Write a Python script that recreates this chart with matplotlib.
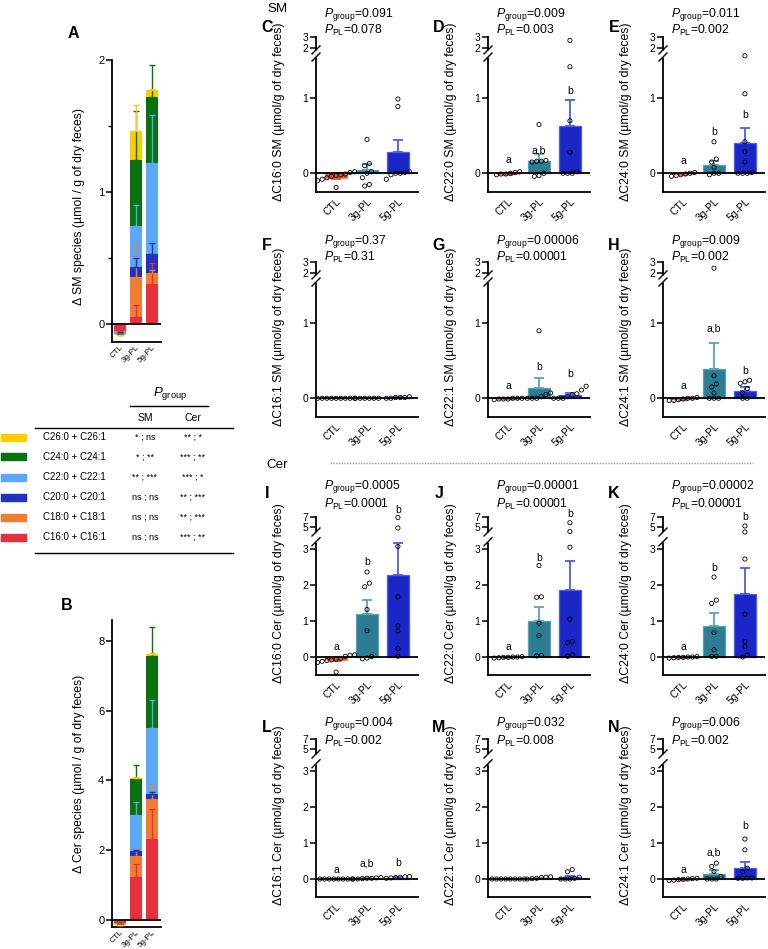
import numpy as np
import matplotlib
matplotlib.use("Agg")
import matplotlib.pyplot as plt
from matplotlib.lines import Line2D
from matplotlib.patches import Rectangle

plt.rcParams['font.family'] = ['Liberation Sans', 'DejaVu Sans']
plt.rcParams['mathtext.fontset'] = 'custom'
plt.rcParams['mathtext.rm'] = 'Liberation Sans'
plt.rcParams['mathtext.it'] = 'Liberation Sans:italic'

W, H = 768, 949

# ---------------- data ----------------
groups = ["CTL", "3g-PL", "5g-PL"]
group_colors = ["#E2592A", "#2C7C93", "#1B26C9"]
group_edges = ["#EE8A60", "#5AA2B8", "#4B5EE4"]

species = ["C16:0 + C16:1", "C18:0 + C18:1", "C20:0 + C20:1",
           "C22:0 + C22:1", "C24:0 + C24:1", "C26:0 + C26:1"]
species_colors = ["#E8303C", "#F07D32", "#1F33C2", "#5BA8FA", "#08720F", "#FFCC00"]
sig_sm = ["ns ; ns", "ns ; ns", "ns ; ns", "** ; ***", "* ; **", "* ; ns"]
sig_cer = ["*** ; **", "** ; ***", "** ; ***", "*** ; *", "*** ; **", "** ; *"]

# panel A (SM) stacked means / SEM, rows = groups, columns = species
sm_stack_mean = [[-0.06, -0.005, -0.002, -0.01, -0.006, -0.002],
                 [0.05, 0.30, 0.08, 0.31, 0.50, 0.22],
                 [0.30, 0.08, 0.15, 0.69, 0.50, 0.05]]
sm_stack_sem = [[0.02, 0.005, 0.002, 0.005, 0.005, 0.002],
                [0.09, 0.25, 0.07, 0.16, 0.37, 0.20],
                [0.16, 0.03, 0.08, 0.36, 0.24, 0.01]]
# panel B (Cer)
cer_stack_mean = [[-0.09, -0.01, -0.005, -0.01, -0.01, -0.005],
                  [1.22, 0.62, 0.13, 1.04, 1.02, 0.04],
                  [2.31, 1.15, 0.15, 1.90, 2.05, 0.06]]
cer_stack_sem = [[0.05, 0.01, 0.005, 0.01, 0.01, 0.005],
                 [0.38, 0.20, 0.05, 0.38, 0.40, 0.02],
                 [0.86, 0.40, 0.05, 0.80, 0.85, 0.03]]

# panels C-N
panel_ids = list("CDEFGHIJKLMN")
lipids = ["C16:0 SM", "C22:0 SM", "C24:0 SM", "C16:1 SM", "C22:1 SM", "C24:1 SM",
          "C16:0 Cer", "C22:0 Cer", "C24:0 Cer", "C16:1 Cer", "C22:1 Cer", "C24:1 Cer"]
p_group = ["0.091", "0.009", "0.011", "0.37", "0.00006", "0.009",
           "0.0005", "0.00001", "0.00002", "0.004", "0.032", "0.006"]
p_pl = ["0.078", "0.003", "0.002", "0.31", "0.00001", "0.002",
        "0.0001", "0.00001", "0.00001", "0.002", "0.008", "0.002"]
bar_means = [[-0.06, 0.04, 0.29], [-0.01, 0.16, 0.63], [-0.01, 0.11, 0.40],
             [0.0, 0.0, 0.01], [-0.005, 0.14, 0.045], [-0.01, 0.39, 0.10],
             [-0.07, 1.20, 2.27], [-0.01, 1.01, 1.85], [-0.01, 0.87, 1.74],
             [0.0, 0.02, 0.04], [0.0, 0.03, 0.05], [-0.01, 0.15, 0.31]]
bar_sems = [[0.02, 0.09, 0.16], [0.01, 0.10, 0.35], [0.01, 0.06, 0.21],
            [0.002, 0.002, 0.003], [0.005, 0.13, 0.025], [0.01, 0.35, 0.05],
            [0.04, 0.39, 0.89], [0.01, 0.38, 0.81], [0.01, 0.36, 0.74],
            [0.002, 0.005, 0.01], [0.002, 0.01, 0.04], [0.01, 0.11, 0.15]]
points = [
    [[0.02, 0.01, -0.01, -0.02, -0.03, -0.04, -0.06, -0.08, -0.10, -0.19],
     [0.45, 0.13, 0.10, 0.02, 0.0, -0.06, -0.15, -0.17],
     [0.99, 0.89, 0.02, 0.01, 0.0, 0.0, -0.02, -0.08]],
    [[0.02, 0.01, 0.0, -0.01, -0.01, -0.02],
     [0.65, 0.17, 0.16, 0.16, 0.15, 0.0, -0.03, -0.04],
     [2.69, 1.42, 0.70, 0.28, 0.02, 0.0, 0.0, 0.0]],
    [[0.01, 0.0, -0.01, -0.02, -0.03, -0.04],
     [0.42, 0.19, 0.15, 0.08, 0.0, 0.0, -0.02],
     [1.60, 1.06, 0.42, 0.29, 0.15, 0.01, 0.0, 0.0, 0.0]],
    [[0.0, 0.0, 0.0, 0.0, 0.0, 0.0, 0.0, 0.0, 0.0],
     [0.0, 0.0, 0.0, 0.0, 0.0, 0.0],
     [0.01, 0.02, 0.01, 0.0, 0.0, 0.01]],
    [[0.0, 0.0, -0.01, -0.01, -0.02, 0.0, -0.01],
     [0.90, 0.07, 0.05, 0.02, 0.0, 0.0, 0.0],
     [0.16, 0.11, 0.06, 0.05, 0.02, 0.0, 0.0, 0.0]],
    [[0.01, 0.0, -0.01, -0.02, -0.03, -0.03, 0.0],
     [2.45, 0.30, 0.19, 0.15, 0.07, 0.0, 0.0, 0.0],
     [0.24, 0.22, 0.20, 0.13, 0.07, 0.0, 0.0]],
    [[0.06, 0.05, 0.02, -0.04, -0.06, -0.08, -0.10, -0.12, -0.15, -0.42],
     [2.36, 2.05, 1.95, 1.32, 0.73, 0.01, -0.03, -0.05],
     [6.9, 4.8, 3.07, 1.67, 0.87, 0.72, 0.23, 0.02]],
    [[0.01, 0.0, -0.01, -0.01, -0.02, -0.03, 0.0],
     [2.54, 1.67, 1.66, 0.94, 0.59, 0.04, 0.03],
     [5.86, 4.1, 3.05, 1.05, 0.43, 0.40, 0.06, 0.02]],
    [[0.01, 0.0, -0.01, -0.01, -0.02, -0.03, 0.0],
     [2.22, 1.58, 1.49, 0.68, 0.20, 0.02, 0.02],
     [5.2, 4.0, 2.72, 1.19, 0.43, 0.29, 0.06, 0.0]],
    [[0.0, 0.0, 0.0, 0.0, 0.0, 0.0, 0.0, 0.0],
     [0.04, 0.03, 0.02, 0.02, 0.01, 0.0, 0.0],
     [0.07, 0.06, 0.05, 0.04, 0.03, 0.02]],
    [[0.0, 0.0, 0.0, 0.0, 0.0, 0.0, 0.0, 0.0],
     [0.06, 0.05, 0.04, 0.02, 0.01, 0.0],
     [0.26, 0.20, 0.05, 0.02, 0.0, 0.0, 0.0]],
    [[0.02, 0.01, 0.0, -0.01, -0.02, -0.03, -0.04],
     [0.44, 0.35, 0.21, 0.07, 0.0, 0.0, 0.0],
     [1.11, 0.81, 0.30, 0.20, 0.03, 0.03, 0.02, 0.02]],
]
letters = [None, ["a", "a,b", "b"], ["a", "b", "b"],
           None, ["a", "b", "b"], ["a", "a,b", "b"],
           ["a", "b", "b"], ["a", "b", "b"], ["a", "b", "b"],
           ["a", "a,b", "b"], None, ["a", "a,b", "b"]]
letter_y = [None, [0.18, 0.30, 1.10], [0.16, 0.55, 0.78],
            None, [0.16, 0.42, 0.32], [0.16, 0.93, 0.36],
            [0.28, 2.65, 8.3], [0.29, 2.75, 7.5], [0.28, 2.47, 7.0],
            [0.26, 0.44, 0.44], None, [0.26, 0.74, 1.48]]


# ---------------- helpers ----------------
fig = plt.figure(figsize=(W / 100, H / 100), dpi=100)


def px_axes(x0, y0, x1, y1):
    return fig.add_axes([x0 / W, 1 - y1 / H, (x1 - x0) / W, (y1 - y0) / H])


def fig_text(x, y, s, **kw):
    fig.text(x / W, 1 - y / H, s, **kw)


def fig_line(x0, x1, y0, y1, **kw):
    fig.add_artist(Line2D([x0 / W, x1 / W], [1 - y0 / H, 1 - y1 / H],
                          transform=fig.transFigure, **kw))


def broken(kx, kf):
    return (lambda y: np.interp(y, kx, kf), lambda f: np.interp(f, kf, kx))


sm_scale = broken([-100, 1.55, 1.85, 100], [-100, 1.55, 1.6445, 1.667 + 98 * 0.15])
cer_scale = broken([-100, 3.2, 4.0, 100], [-100, 3.2, 3.471, 3.61 + 95 * 0.139])


def swarm(ax, xc, vals, spacing=0.15, gap_px=4.5):
    vals = np.asarray(vals, dtype=float)
    order = np.argsort(vals)
    ypx = ax.transData.transform(np.c_[np.zeros(len(vals)), vals])[:, 1]
    xs = np.zeros(len(vals))
    clusters, cur = [], [order[0]]
    for i in order[1:]:
        if abs(ypx[i] - ypx[cur[-1]]) < gap_px:
            cur.append(i)
        else:
            clusters.append(cur)
            cur = [i]
    clusters.append(cur)
    for cl in clusters:
        n = len(cl)
        for j, i in enumerate(cl):
            xs[i] = xc + (j - (n - 1) / 2) * spacing
    ax.scatter(xs, vals, s=9, facecolor="none", edgecolor="black",
               linewidth=0.6, zorder=5, clip_on=False)


def style_axis(ax):
    for s in ["top", "right"]:
        ax.spines[s].set_visible(False)
    for s in ["left", "bottom"]:
        ax.spines[s].set_linewidth(1.3)
    ax.tick_params(axis="y", length=4, width=1.1, labelsize=7.5, pad=1.5)
    ax.tick_params(axis="x", length=0, labelsize=7.5, pad=3)
    ax.axhline(0, color="black", lw=1.3, zorder=4)


def break_marks(ax, f_lo, f_hi, fmin, fmax, h_px, w_px):
    a = (f_lo - fmin) / (fmax - fmin)
    b = (f_hi - fmin) / (fmax - fmin)
    dx = 4.0 / w_px
    dy = 4.0 / h_px
    ax.plot([0, 0], [a, b], transform=ax.transAxes, color="white", lw=2.5,
            zorder=6, clip_on=False, solid_capstyle="butt")
    for c in (a, b):
        ax.plot([-dx, dx], [c - dy, c + dy], transform=ax.transAxes,
                color="black", lw=1.0, zorder=7, clip_on=False)


# ---------------- panels C-N ----------------
col_x = [316, 488, 663]
ax_w = 102
row_y = [(37, 192), (262, 417), (517, 675), (739, 897)]
p_rows = [(15, 30), (242, 257), (487, 504), (724, 741)]
letter_rows = [27, 246, 493, 728]

for k in range(12):
    row, col = divmod(k, 3)
    x0 = col_x[col]
    y0, y1 = row_y[row]
    ax = px_axes(x0, y0, x0 + ax_w, y1)
    sm = row < 2
    fwd, inv = sm_scale if sm else cer_scale
    ax.set_yscale("function", functions=(fwd, inv))
    ylo, yhi = (-0.25, 3) if sm else (-0.5, 7)
    ax.set_ylim(ylo, yhi)
    ax.set_xlim(-0.65, 2.65)
    ticks = [0, 1, 2, 3] if sm else [0, 1, 2, 3, 5, 7]
    ax.set_yticks(ticks)
    ax.set_yticklabels([str(t) for t in ticks])
    ax.yaxis.set_minor_locator(matplotlib.ticker.NullLocator())
    style_axis(ax)
    ax.set_xticks(range(3))
    ax.set_xticklabels(groups, rotation=45, ha="right", rotation_mode="anchor")

    for g in range(3):
        m = bar_means[k][g]
        e = bar_sems[k][g]
        ax.bar(g, m, width=0.72, color=group_colors[g], edgecolor=group_edges[g],
               linewidth=0.9, zorder=2)
        yerr = [[0], [e]] if m >= 0 else [[e], [0]]
        ax.errorbar(g, m, yerr=yerr, color=group_edges[g] if g else group_colors[g],
                    lw=1.3, capsize=3.5, capthick=1.3, zorder=3)
    for g in range(3):
        swarm(ax, g, points[k][g])
    if letters[k]:
        for g in range(3):
            ax.text(g, letter_y[k][g], letters[k][g], ha="center", va="center",
                    fontsize=7.5, zorder=6)

    h_px = y1 - y0
    fmin, fmax = fwd(ylo), fwd(yhi)
    if sm:
        break_marks(ax, 1.55, 1.6445, fmin, fmax, h_px, ax_w)
    else:
        break_marks(ax, 3.2, 3.471, fmin, fmax, h_px, ax_w)

    ax.set_ylabel("\u0394" + lipids[k] + " (\u00b5mol/g of dry feces)", fontsize=8.8)
    ax.yaxis.set_label_coords(-31 / ax_w, 0.5 + 3 / h_px)

    py1, py2 = p_rows[row]
    fig_text(x0 + 8, py1, r"$\it{P}_{\rm{group}}$=" + p_group[k], fontsize=8.8,
             va="center", ha="left")
    fig_text(x0 + 8, py2, r"$\it{P}_{\rm{PL}}$=" + p_pl[k], fontsize=8.8,
             va="center", ha="left")
    fig_text(x0 - 49, letter_rows[row], panel_ids[k], fontsize=11.5,
             fontweight="bold", va="center", ha="center")

fig_text(277, 9, "SM", fontsize=9.6, va="center", ha="center")
fig_text(277, 465, "Cer", fontsize=9.6, va="center", ha="center")
fig_line(330, 753, 463, 463, color="#9A9A9A", lw=1.0, linestyle=(0, (1, 1)))


# ---------------- panels A and B ----------------
def stacked(ax, means, sems, ylim, ticks):
    ax.set_ylim(*ylim)
    ax.set_xlim(-0.5, 2.56)
    style_axis(ax)
    ax.set_yticks(ticks)
    for g in range(3):
        bottom = 0.0
        tops = []
        for s in range(6):
            v = means[g][s]
            ax.bar(g, v, bottom=bottom, width=0.75, color=species_colors[s],
                   linewidth=0, zorder=2)
            bottom += v
            tops.append(bottom)
        for s in range(6):
            e = sems[g][s]
            yerr = [[0], [e]] if means[g][s] >= 0 else [[e], [0]]
            ax.errorbar(g, tops[s], yerr=yerr, color=species_colors[s],
                        lw=1.0, capsize=2.2, capthick=1.0, zorder=3)
    ax.set_xticks(range(3))
    ax.set_xticklabels(groups, rotation=45, ha="right", rotation_mode="anchor",
                       fontsize=5.8)
    ax.tick_params(axis="x", pad=1.5)
    ax.tick_params(axis="y", labelsize=8)


axA = px_axes(112, 60, 161, 342)
stacked(axA, sm_stack_mean, sm_stack_sem, (-0.14, 2.0), [0, 1, 2])
axA.set_yticks([0.5, 1.5], minor=True)
axA.tick_params(axis="y", which="minor", length=3, width=1.0)
axA.set_ylabel("\u0394 SM species (\u00b5mol / g of dry feces)", fontsize=8.8)
axA.yaxis.set_label_coords(-27 / 49, 0.48)

axB = px_axes(112, 620, 161, 927)
stacked(axB, cer_stack_mean, cer_stack_sem, (-0.2, 8.6), [0, 2, 4, 6, 8])
axB.set_ylabel("\u0394 Cer species (\u00b5mol / g of dry feces)", fontsize=8.8)
axB.yaxis.set_label_coords(-27 / 49, 0.5)

fig_text(73, 33, "A", fontsize=11.5, fontweight="bold", va="center", ha="center")
fig_text(67, 605, "B", fontsize=11.5, fontweight="bold", va="center", ha="center")

# ---------------- legend table ----------------
fig_text(170, 394, r"$\it{P}_{\rm{group}}$", fontsize=9.5, va="center", ha="center")
fig_line(130, 208, 406, 406, color="black", lw=1.0)
fig_text(145, 418, "SM", fontsize=7.5, va="center", ha="center")
fig_text(193, 418, "Cer", fontsize=7.5, va="center", ha="center")
fig_line(35, 233, 428, 428, color="black", lw=1.0)
row_px = [537, 517, 497, 477, 457, 437]
for s in range(6):
    yy = row_px[s]
    fig.add_artist(Rectangle((1 / W, 1 - (yy + 3.5) / H), 25 / W, 7 / H,
                             transform=fig.transFigure, color=species_colors[s]))
    fig_text(43, yy, species[s], fontsize=7, va="center", ha="left")
    fig_text(145, yy, sig_sm[s], fontsize=6.5, va="center", ha="center")
    fig_text(193, yy, sig_cer[s], fontsize=6.5, va="center", ha="center")
fig_line(35, 233, 553, 553, color="black", lw=1.0)

fig.savefig("out.png", dpi=100)
